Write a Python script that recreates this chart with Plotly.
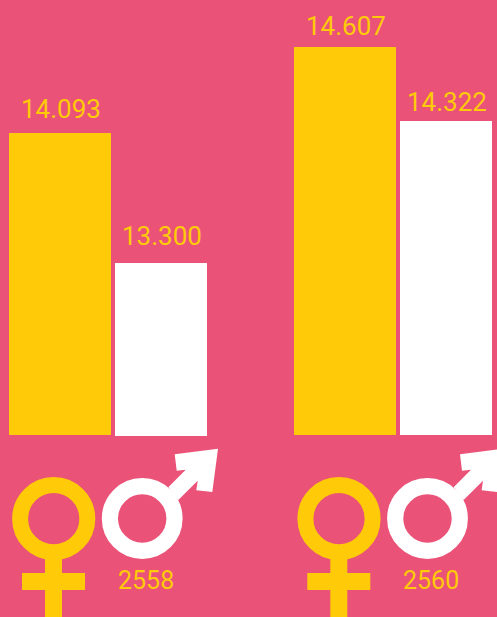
import plotly.graph_objects as go

W, H = 497, 617
BASE = 435  # pixel row of the bars' common baseline

years = ["2558", "2560"]
female_labels = ["14.093", "14.607"]
male_labels = ["13.300", "14.322"]
# drawn bar heights (the source's axis is not linear)
female_heights = [302, 388]
male_heights = [173, 314]

PINK = "#EB5278"
GOLD = "#FFCB08"
WHITE = "#FFFFFF"
FONT = "Roboto"


def Y(py):
    return BASE - py


panel_dx = [0, 285.3]
fig = go.Figure()

fx = [60 + d for d in [0, 285]]
mx = [161 + d for d in [0, 285]]
fig.add_trace(go.Bar(x=fx, y=female_heights, width=102, marker=dict(color=GOLD, line=dict(width=0)),
                     name="Female", hoverinfo="skip"))
fig.add_trace(go.Bar(x=mx, y=male_heights, width=92, base=[-1, 0], marker=dict(color=WHITE, line=dict(width=0)),
                     name="Male", hoverinfo="skip"))

shapes = []
for dx in panel_dx:
    # female symbol
    cx, cy, r = 53.7 + dx, 518.7, 33.6
    shapes.append(dict(type="circle", x0=cx - r, x1=cx + r, y0=Y(cy - r), y1=Y(cy + r),
                       line=dict(color=GOLD, width=16), fillcolor="rgba(0,0,0,0)"))
    shapes.append(dict(type="rect", x0=45 + dx, x1=62 + dx, y0=Y(558), y1=Y(620),
                       line=dict(width=0), fillcolor=GOLD))
    shapes.append(dict(type="rect", x0=22 + dx, x1=85 + dx, y0=Y(573), y1=Y(590),
                       line=dict(width=0), fillcolor=GOLD))
    # male symbol
    cx, cy, r = 142.2 + dx, 518.5, 32.3
    shapes.append(dict(type="circle", x0=cx - r, x1=cx + r, y0=Y(cy - r), y1=Y(cy + r),
                       line=dict(color=WHITE, width=16.2), fillcolor="rgba(0,0,0,0)"))
    pts = [(218, 448.7), (174.7, 454.3), (176.7, 470.7), (185.7, 469.7), (168.3, 487.3),
           (178.3, 500), (197.7, 480.7), (196.3, 490.3), (212.3, 492)]
    path = "M " + " L ".join(f"{px + dx:.1f} {Y(py):.1f}" for px, py in pts) + " Z"
    shapes.append(dict(type="path", path=path, line=dict(width=0), fillcolor=WHITE))

annos = []


def label(text, x, py, size=26):
    annos.append(dict(text=text, x=x, y=Y(py), xref="x", yref="y", showarrow=False,
                      xanchor="center", yanchor="middle",
                      font=dict(family=FONT, size=size, color=GOLD)))


label(female_labels[0], 60.5, 108.5)
label(male_labels[0], 161.5, 235.5)
label(female_labels[1], 345.5, 25.5)
label(male_labels[1], 446.5, 102)
label(years[0], 145.5, 580.5, 25)
label(years[1], 430.5, 580.5, 25)

fig.update_layout(
    width=W, height=H, autosize=False,
    margin=dict(l=0, r=0, t=0, b=0),
    paper_bgcolor=PINK, plot_bgcolor=PINK,
    showlegend=False, barmode="overlay",
    xaxis=dict(range=[0, W], visible=False, fixedrange=True),
    yaxis=dict(range=[Y(H), Y(0)], visible=False, fixedrange=True),
    shapes=shapes, annotations=annos,
)
fig.write_html("out.html", config=dict(displayModeBar=False), default_width=W, default_height=H,
               post_script="document.body.style.margin='0';document.body.style.overflow='hidden';")
